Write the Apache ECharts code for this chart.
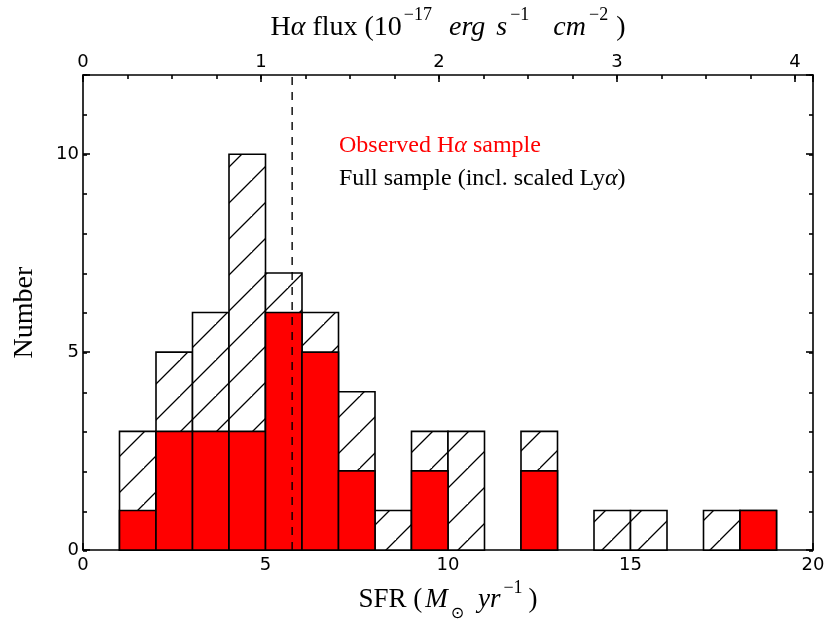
<!DOCTYPE html>
<html>
<head>
<meta charset="utf-8">
<script src="https://cdn.jsdelivr.net/npm/echarts@6/dist/echarts.min.js"></script>
<style>
html,body{margin:0;padding:0;background:#fff;}
#chart{width:830px;height:627px;}
</style>
</head>
<body>
<div id="chart"></div>
<script>
// ---- data ----
const binStarts   = [0,1,2,3,4,5,6,7,8,9,10,11,12,13,14,15,16,17,18,19];
const fullCounts  = [0,3,5,6,10,7,6,4,1,3,3,0,3,0,1,1,0,1,1,0];
const haCounts    = [0,1,3,3,3,6,5,2,0,2,0,0,2,0,0,0,0,0,1,0];
const binWidth = 1;
const dashedSFR = 5.73;
const sfrMax = 20;
const countMax = 12;
const fluxPerSFR = 1 / 4.877;   // top axis: H-alpha flux per unit SFR
const bottomTicks = [0,5,10,15,20];
const topTicks = [0,1,2,3,4];
const leftTicks = [0,5,10];

// ---- hatch pattern ----
const P = 36;
const pc = document.createElement('canvas');
pc.width = P; pc.height = P;
const g = pc.getContext('2d');
g.fillStyle = '#fff'; g.fillRect(0,0,P,P);
g.strokeStyle = '#000'; g.lineWidth = 1.3;
g.beginPath();
g.moveTo(-2, P+2); g.lineTo(P+2, -2);
g.moveTo(-2-P, P+2); g.lineTo(2, -2);
g.moveTo(P-2, 2*P+2); g.lineTo(2*P+2, P-2);
g.stroke();
const hatch = {image: pc, repeat: 'repeat'};

const fullData = binStarts.map((b,i)=>[b, fullCounts[i]]);
const haData = binStarts.map((b,i)=>[b, haCounts[i]]);

function makeRender(fill){
  return function(params, api){
    const x0 = api.value(0), h = api.value(1);
    if (!(h > 0)) return;
    const p0 = api.coord([x0, h]);
    const p1 = api.coord([x0 + binWidth, 0]);
    return {
      type:'rect',
      shape:{x:p0[0], y:p0[1], width:p1[0]-p0[0], height:p1[1]-p0[1]},
      style:{fill: fill, stroke:'#000', lineWidth:1.6}
    };
  };
}

const tickFont = {fontFamily:'DejaVu Sans', fontSize:18, color:'#000'};
const lineStyle = {color:'#000', width:1.6};
const topMax = sfrMax * fluxPerSFR;
const gridRect = {left:83, right:17, top:75, bottom:76, containLabel:false};

function minorAxis(gridIndex, position, max, interval){
  return {type:'value', gridIndex, position, min:0, max, interval,
    axisLine:{show:false, onZero:false},
    axisTick:{show:true, inside:true, length:4, lineStyle:lineStyle},
    axisLabel:{show:false}, splitLine:{show:false}};
}

const chart = echarts.init(document.getElementById('chart'));
chart.setOption({
  animation:false,
  backgroundColor:'#fff',
  grid:[gridRect, gridRect],
  xAxis:[
    {type:'value', gridIndex:0, position:'bottom', min:0, max:sfrMax, interval:5,
     axisLine:{show:true, onZero:false, lineStyle:lineStyle},
     axisTick:{show:true, inside:true, length:7, lineStyle:lineStyle},
     axisLabel:{...tickFont, margin:6, formatter:v=>bottomTicks.includes(v)?String(v):''},
     splitLine:{show:false},
     name:'SFR ({it|M}{sub|⊙} {it|yr}{sup|−1}{sp| })', nameLocation:'middle', nameGap:32,
     nameTextStyle:{fontFamily:'Liberation Serif', fontSize:27, color:'#000',
       rich:{
         it:{fontFamily:'Liberation Serif', fontStyle:'italic', fontSize:27, padding:[0,1,0,3]},
         sub:{fontFamily:'DejaVu Sans', fontSize:16, verticalAlign:'bottom', padding:[0,4,-9,2]},
         sup:{fontFamily:'Liberation Serif', fontSize:18, verticalAlign:'top', padding:[-7,0,0,2]},
         sp:{fontSize:27, width:6}
       }}
    },
    {type:'value', gridIndex:0, position:'top', min:0, max:topMax, interval:1,
     axisLine:{show:true, onZero:false, lineStyle:lineStyle},
     axisTick:{show:true, inside:true, length:7, lineStyle:lineStyle},
     axisLabel:{...tickFont, margin:4, formatter:v=>topTicks.includes(v)?String(v):''},
     splitLine:{show:false},
     name:'H{ga|α} flux (10{sup|−17}  {it|erg} {it|s}{sup|−1}   {it|cm}{sup|−2}{sp| })', nameLocation:'middle', nameGap:33,
     nameTextStyle:{fontFamily:'Liberation Serif', fontSize:28, color:'#000',
       rich:{
         ga:{fontFamily:'Liberation Serif', fontStyle:'italic', fontSize:28},
         it:{fontFamily:'Liberation Serif', fontStyle:'italic', fontSize:28, padding:[0,1,0,3]},
         sup:{fontFamily:'Liberation Serif', fontSize:18, verticalAlign:'top', padding:[-8,0,0,2]},
         sp:{fontSize:28, width:8}
       }}
    },
    minorAxis(1, 'top', topMax, 0.25)
  ],
  yAxis:[
    {type:'value', gridIndex:0, position:'left', min:0, max:countMax, interval:5,
     axisLine:{show:true, onZero:false, lineStyle:lineStyle},
     axisTick:{show:true, inside:true, length:7, lineStyle:lineStyle},
     axisLabel:{...tickFont, margin:4, formatter:v=>leftTicks.includes(v)?String(v):''},
     splitLine:{show:false},
     name:'Number', nameLocation:'middle', nameGap:44,
     nameTextStyle:{fontFamily:'Liberation Serif', fontSize:28, color:'#000'}
    },
    {type:'value', gridIndex:0, position:'right', min:0, max:countMax, interval:5,
     axisLine:{show:true, onZero:false, lineStyle:lineStyle},
     axisTick:{show:true, inside:true, length:7, lineStyle:lineStyle},
     axisLabel:{show:false}, splitLine:{show:false}},
    minorAxis(1, 'left', countMax, 1),
    minorAxis(1, 'right', countMax, 1)
  ],
  series:[
    {type:'custom', name:'Full sample (incl. scaled Lyα)', xAxisIndex:0, yAxisIndex:0,
     encode:{x:0, y:1}, data:fullData, renderItem:makeRender(hatch), z:2},
    {type:'custom', name:'Observed Hα sample', xAxisIndex:0, yAxisIndex:0,
     encode:{x:0, y:1}, data:haData, renderItem:makeRender('#ff0000'), z:3},
    {type:'line', xAxisIndex:0, yAxisIndex:0, data:[[dashedSFR,0],[dashedSFR,countMax]],
     symbol:'none', lineStyle:{color:'#000', width:1.4, type:[8,7]}, z:4}
  ],
  graphic:[
    {type:'text', left:339, top:134, z:10,
     style:{text:'Observed H{ga|α} sample', fill:'#ff0000', font:'24px "Liberation Serif"',
            rich:{ga:{fontFamily:'Liberation Serif', fontStyle:'italic', fontSize:24, fill:'#ff0000'}}}},
    {type:'text', left:339, top:167, z:10,
     style:{text:'Full sample (incl. scaled Ly{ga|α})', fill:'#000', font:'24px "Liberation Serif"',
            rich:{ga:{fontFamily:'Liberation Serif', fontStyle:'italic', fontSize:24, fill:'#000'}}}}
  ]
});
</script>
</body>
</html>
